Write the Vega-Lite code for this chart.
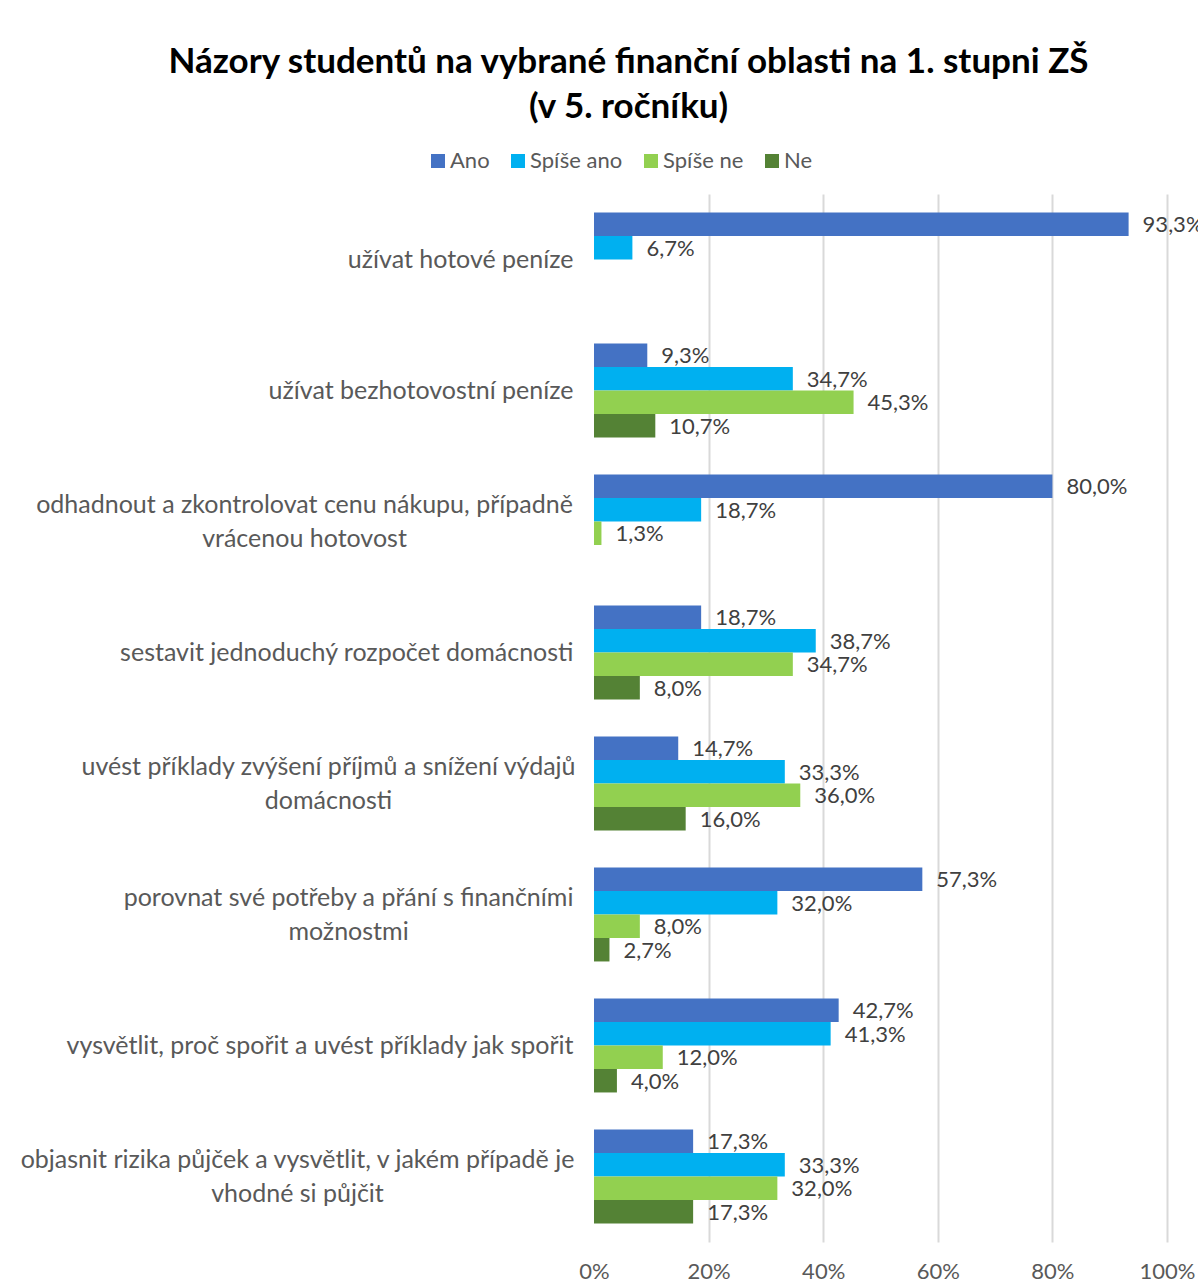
{
  "$schema": "https://vega.github.io/schema/vega-lite/v6.json",
  "autosize": {"type": "none"},
  "padding": {"left": 594, "top": 194, "right": 31, "bottom": 41},
  "width": 573,
  "height": 1048,
  "background": "white",
  "title": {
    "text": ["Názory studentů na vybrané finanční oblasti na 1. stupni ZŠ", "(v 5. ročníku)"],
    "font": "Lato",
    "fontSize": 35,
    "fontWeight": "bold",
    "color": "#000000",
    "lineHeight": 45,
    "anchor": "middle",
    "frame": "group",
    "dx": -252,
    "offset": 25
  },
  "data": {
    "values": [
      {"oblast": "užívat hotové peníze", "odpoved": "Ano", "podil": 0.933},
      {"oblast": "užívat hotové peníze", "odpoved": "Spíše ano", "podil": 0.067},
      {"oblast": "užívat bezhotovostní peníze", "odpoved": "Ano", "podil": 0.093},
      {"oblast": "užívat bezhotovostní peníze", "odpoved": "Spíše ano", "podil": 0.347},
      {"oblast": "užívat bezhotovostní peníze", "odpoved": "Spíše ne", "podil": 0.453},
      {"oblast": "užívat bezhotovostní peníze", "odpoved": "Ne", "podil": 0.107},
      {"oblast": "odhadnout a zkontrolovat cenu nákupu, případně vrácenou hotovost", "odpoved": "Ano", "podil": 0.8},
      {"oblast": "odhadnout a zkontrolovat cenu nákupu, případně vrácenou hotovost", "odpoved": "Spíše ano", "podil": 0.187},
      {"oblast": "odhadnout a zkontrolovat cenu nákupu, případně vrácenou hotovost", "odpoved": "Spíše ne", "podil": 0.013},
      {"oblast": "sestavit jednoduchý rozpočet domácnosti", "odpoved": "Ano", "podil": 0.187},
      {"oblast": "sestavit jednoduchý rozpočet domácnosti", "odpoved": "Spíše ano", "podil": 0.387},
      {"oblast": "sestavit jednoduchý rozpočet domácnosti", "odpoved": "Spíše ne", "podil": 0.347},
      {"oblast": "sestavit jednoduchý rozpočet domácnosti", "odpoved": "Ne", "podil": 0.08},
      {"oblast": "uvést příklady zvýšení příjmů a snížení výdajů domácnosti", "odpoved": "Ano", "podil": 0.147},
      {"oblast": "uvést příklady zvýšení příjmů a snížení výdajů domácnosti", "odpoved": "Spíše ano", "podil": 0.333},
      {"oblast": "uvést příklady zvýšení příjmů a snížení výdajů domácnosti", "odpoved": "Spíše ne", "podil": 0.36},
      {"oblast": "uvést příklady zvýšení příjmů a snížení výdajů domácnosti", "odpoved": "Ne", "podil": 0.16},
      {"oblast": "porovnat své potřeby a přání s finančními možnostmi", "odpoved": "Ano", "podil": 0.573},
      {"oblast": "porovnat své potřeby a přání s finančními možnostmi", "odpoved": "Spíše ano", "podil": 0.32},
      {"oblast": "porovnat své potřeby a přání s finančními možnostmi", "odpoved": "Spíše ne", "podil": 0.08},
      {"oblast": "porovnat své potřeby a přání s finančními možnostmi", "odpoved": "Ne", "podil": 0.027},
      {"oblast": "vysvětlit, proč spořit a uvést příklady jak spořit", "odpoved": "Ano", "podil": 0.427},
      {"oblast": "vysvětlit, proč spořit a uvést příklady jak spořit", "odpoved": "Spíše ano", "podil": 0.413},
      {"oblast": "vysvětlit, proč spořit a uvést příklady jak spořit", "odpoved": "Spíše ne", "podil": 0.12},
      {"oblast": "vysvětlit, proč spořit a uvést příklady jak spořit", "odpoved": "Ne", "podil": 0.04},
      {"oblast": "objasnit rizika půjček a vysvětlit, v jakém případě je vhodné si půjčit", "odpoved": "Ano", "podil": 0.173},
      {"oblast": "objasnit rizika půjček a vysvětlit, v jakém případě je vhodné si půjčit", "odpoved": "Spíše ano", "podil": 0.333},
      {"oblast": "objasnit rizika půjček a vysvětlit, v jakém případě je vhodné si půjčit", "odpoved": "Spíše ne", "podil": 0.32},
      {"oblast": "objasnit rizika půjček a vysvětlit, v jakém případě je vhodné si půjčit", "odpoved": "Ne", "podil": 0.173}
    ]
  },
  "encoding": {
    "y": {
      "field": "oblast",
      "type": "nominal",
      "sort": null,
      "title": null,
      "scale": {"paddingInner": 0.283, "paddingOuter": 0.1415},
      "axis": {
        "domain": false,
        "ticks": false,
        "labelFont": "Lato",
        "labelFontSize": 25,
        "labelColor": "#595959",
        "labelLimit": 600,
        "labelLineHeight": 34,
        "labelAlign": {
          "condition": {"test": "indexof(datum.value, 'odhadnout') == 0 || indexof(datum.value, 'uvést') == 0 || indexof(datum.value, 'porovnat') == 0 || indexof(datum.value, 'objasnit') == 0", "value": "center"},
          "value": "right"
        },
        "labelOffset": {
          "condition": {"test": "indexof(datum.value, 'odhadnout') == 0 || indexof(datum.value, 'uvést') == 0 || indexof(datum.value, 'porovnat') == 0 || indexof(datum.value, 'objasnit') == 0", "value": -17},
          "value": 0
        },
        "labelPadding": {
          "condition": [
            {"test": "indexof(datum.value, 'odhadnout') == 0", "value": 290},
            {"test": "indexof(datum.value, 'uvést') == 0", "value": 266},
            {"test": "indexof(datum.value, 'porovnat') == 0", "value": 246},
            {"test": "indexof(datum.value, 'objasnit') == 0", "value": 297}
          ],
          "value": 21
        },
        "labelExpr": "datum.label == 'odhadnout a zkontrolovat cenu nákupu, případně vrácenou hotovost' ? ['odhadnout a zkontrolovat cenu nákupu, případně', 'vrácenou hotovost'] : datum.label == 'uvést příklady zvýšení příjmů a snížení výdajů domácnosti' ? ['uvést příklady zvýšení příjmů a snížení výdajů', 'domácnosti'] : datum.label == 'porovnat své potřeby a přání s finančními možnostmi' ? ['porovnat své potřeby a přání s finančními', 'možnostmi'] : datum.label == 'objasnit rizika půjček a vysvětlit, v jakém případě je vhodné si půjčit' ? ['objasnit rizika půjček a vysvětlit, v jakém případě je', 'vhodné si půjčit'] : datum.label"
      }
    },
    "yOffset": {
      "field": "odpoved",
      "type": "nominal",
      "sort": ["Ano", "Spíše ano", "Spíše ne", "Ne"],
      "scale": {"domain": ["Ano", "Spíše ano", "Spíše ne", "Ne"], "paddingInner": 0, "paddingOuter": 0}
    },
    "x": {
      "field": "podil",
      "type": "quantitative",
      "title": null,
      "scale": {"domain": [0, 1], "nice": false},
      "axis": {
        "values": [0, 0.2, 0.4, 0.6, 0.8, 1],
        "format": ".0%",
        "domain": false,
        "ticks": false,
        "grid": true,
        "gridColor": "#d9d9d9",
        "gridWidth": 2,
        "gridOpacity": {"condition": {"test": "datum.value == 0", "value": 0}, "value": 1},
        "labelFlush": false,
        "labelOverlap": false,
        "labelPadding": 19,
        "labelFont": "Lato",
        "labelFontSize": 22,
        "labelColor": "#595959"
      }
    }
  },
  "layer": [
    {
      "mark": {"type": "bar"},
      "encoding": {
        "color": {
          "field": "odpoved",
          "type": "nominal",
          "title": null,
          "scale": {
            "domain": ["Ano", "Spíše ano", "Spíše ne", "Ne"],
            "range": ["#4472C4", "#00B0F0", "#92D050", "#548235"]
          },
          "legend": {
            "orient": "none",
            "direction": "horizontal",
            "legendX": -167,
            "legendY": -44,
            "padding": 0,
            "symbolType": "square",
            "symbolSize": 196,
            "symbolStrokeWidth": 0,
            "labelFont": "Lato",
            "labelFontSize": 22,
            "labelColor": "#595959",
            "labelOffset": 1,
            "columnPadding": 17
          }
        }
      }
    },
    {
      "mark": {"type": "text", "align": "left", "baseline": "middle", "dx": 14, "dy": 1, "font": "Lato", "fontSize": 22, "color": "#404040"},
      "encoding": {
        "text": {"field": "podil", "type": "quantitative", "format": ".1%"}
      }
    }
  ],
  "config": {
    "view": {"stroke": null},
    "locale": {
      "number": {"decimal": ",", "thousands": " ", "grouping": [3], "currency": ["", " Kč"]}
    }
  }
}
